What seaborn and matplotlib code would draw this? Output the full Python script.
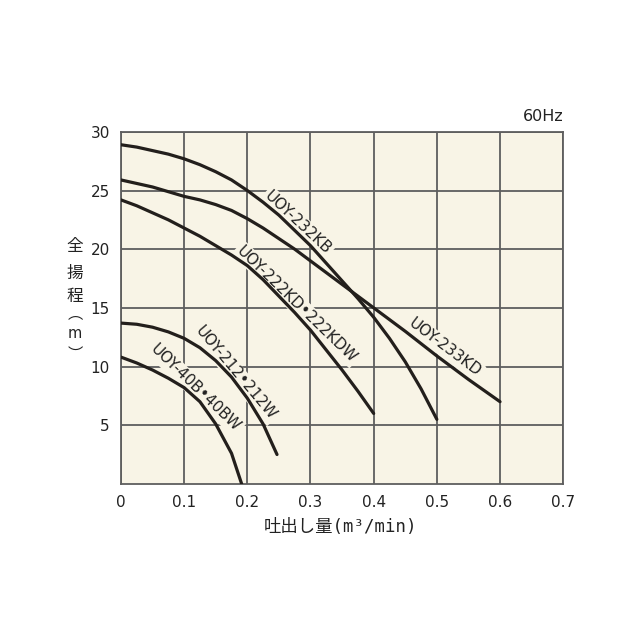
import matplotlib
matplotlib.use("Agg")
import matplotlib.pyplot as plt
import seaborn as sns
import pandas as pd

# pump curves: flow (m3/min) vs total head (m)
q_232kb = [0, 0.025, 0.05, 0.075, 0.1, 0.125, 0.15, 0.175, 0.2, 0.225, 0.25,
           0.275, 0.3, 0.325, 0.35, 0.375, 0.4, 0.425, 0.45, 0.475, 0.5]
h_232kb = [28.9, 28.7, 28.4, 28.1, 27.7, 27.2, 26.6, 25.9, 25.0, 24.0, 22.9,
           21.6, 20.3, 18.8, 17.3, 15.8, 14.2, 12.4, 10.4, 8.1, 5.5]

q_233kd = [0, 0.025, 0.05, 0.075, 0.1, 0.125, 0.15, 0.175, 0.2, 0.225, 0.25,
           0.275, 0.3, 0.325, 0.35, 0.375, 0.4, 0.45, 0.5, 0.55, 0.6]
h_233kd = [25.9, 25.6, 25.3, 24.9, 24.5, 24.2, 23.8, 23.3, 22.6, 21.8, 20.9,
           20.0, 19.0, 18.0, 17.0, 16.0, 15.0, 13.0, 10.9, 8.9, 7.0]

q_222kd = [0, 0.025, 0.05, 0.075, 0.1, 0.125, 0.15, 0.175, 0.2, 0.225, 0.25,
           0.275, 0.3, 0.325, 0.35, 0.375, 0.4]
h_222kd = [24.2, 23.7, 23.1, 22.5, 21.8, 21.1, 20.3, 19.5, 18.6, 17.4, 16.0,
           14.6, 13.1, 11.4, 9.7, 7.9, 6.0]

q_212 = [0, 0.025, 0.05, 0.075, 0.1, 0.125, 0.15, 0.175, 0.2, 0.225, 0.247]
h_212 = [13.7, 13.6, 13.35, 12.95, 12.4, 11.6, 10.5, 9.1, 7.3, 5.1, 2.5]

q_40b = [0, 0.025, 0.05, 0.075, 0.1, 0.125, 0.15, 0.175, 0.191]
h_40b = [10.8, 10.3, 9.7, 9.0, 8.2, 7.0, 5.1, 2.6, 0.0]

names = ["UOY-232KB", "UOY-233KD", "UOY-222KD•222KDW", "UOY-212•212W", "UOY-40B•40BW"]
flows = [q_232kb, q_233kd, q_222kd, q_212, q_40b]
heads = [h_232kb, h_233kd, h_222kd, h_212, h_40b]

# label anchor on the curve (data coords) and angle
label_x = [0.272, 0.505, 0.27, 0.172, 0.11]
label_y = [21.8, 11.1, 14.85, 9.0, 7.7]
label_rot = [-43, -37, -44, -50, -44]

x_ticks = [0, 0.1, 0.2, 0.3, 0.4, 0.5, 0.6, 0.7]
x_ticklabels = ["0", "0.1", "0.2", "0.3", "0.4", "0.5", "0.6", "0.7"]
y_ticks = [5, 10, 15, 20, 25, 30]

rows = []
for n, q, h in zip(names, flows, heads):
    for a, b in zip(q, h):
        rows.append({"model": n, "q": a, "h": b})
df = pd.DataFrame(rows)

sns.set_style("white")
plt.rcParams["font.family"] = ["DejaVu Sans", "Noto Sans CJK JP"]

bg = "#f8f4e6"
grid_c = "#5e5e5e"
line_c = "#231f1c"
cjk = ["Noto Sans CJK JP", "DejaVu Sans"]

fig = plt.figure(figsize=(6.4, 6.4), dpi=100)
ax = fig.add_axes([0.189, 0.244, 0.691, 0.550])
ax.set_facecolor(bg)

for n in names:
    sub = df[df["model"] == n]
    sns.lineplot(data=sub, x="q", y="h", ax=ax, color=line_c, linewidth=2.3,
                 sort=False, estimator=None, legend=False, zorder=3)

for n, lx, ly, r in zip(names, label_x, label_y, label_rot):
    ax.text(lx, ly, n, rotation=r, rotation_mode="anchor", ha="center", va="bottom",
            fontsize=11, color="#222222", zorder=2.5,
            bbox=dict(facecolor=bg, edgecolor="none", pad=1.5))

ax.set_xlim(0, 0.7)
ax.set_ylim(0, 30)
ax.set_xticks(x_ticks)
ax.set_xticklabels(x_ticklabels)
ax.set_yticks(y_ticks)
ax.grid(True, color=grid_c, linewidth=1.3, zorder=1)
ax.set_axisbelow(True)
for s in ax.spines.values():
    s.set_color(grid_c)
    s.set_linewidth(1.3)
ax.tick_params(length=0, labelsize=11, colors="#222222", pad=8)
ax.set_xlabel("")
ax.set_ylabel("")

fig.text(0.880, 0.806, "60Hz", ha="right", va="bottom", fontsize=11.5, color="#222222")

fig.text(0.532, 0.176, "吐出し量(m³/min)", ha="center", va="center", fontsize=12.5,
         color="#222222", family=["DejaVu Sans Mono", "Noto Sans CJK JP"])

# vertical y-axis title, one character per row
for c, py in zip(["全", "揚", "程"], [246, 273, 297]):
    fig.text(75 / 640, 1 - py / 640, c, ha="center", va="center", fontsize=12,
             color="#222222", family=cjk)
fig.text(75 / 640, 1 - 334 / 640, "m", ha="center", va="center", fontsize=10.5,
         color="#222222")
# vertical-form brackets sit off-centre in their em box, so shift them
for c, py in zip(["︵", "︶"], [314, 354]):
    fig.text(75 / 640, 1 - py / 640, c, ha="center", va="center", fontsize=11,
             color="#222222", family=cjk)

fig.savefig("out.png", dpi=100, facecolor="white")
